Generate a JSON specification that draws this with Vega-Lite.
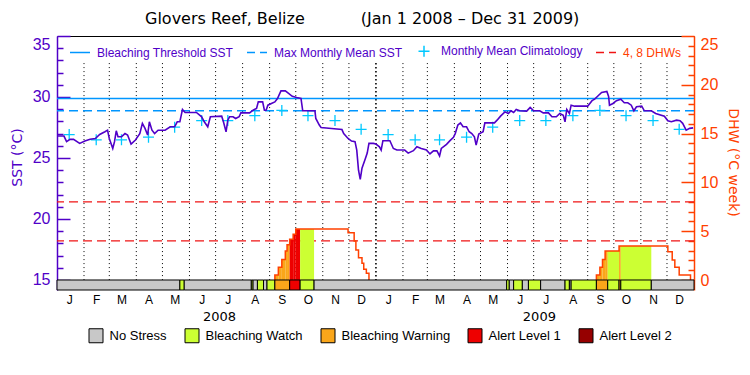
{
  "$schema": "https://vega.github.io/schema/vega-lite/v6.json",
  "width": 637,
  "height": 254,
  "autosize": {"type": "none"},
  "padding": {"left": 57, "top": 36, "right": 56, "bottom": 85},
  "background": "white",
  "config": {"view": {"stroke": null}, "font": "Liberation Sans"},
  "title": {
    "text": "Glovers Reef, Belize\u00a0\u00a0\u00a0\u00a0\u00a0\u00a0\u00a0\u00a0\u00a0\u00a0\u00a0(Jan 1 2008 \u2013 Dec 31 2009)",
    "anchor": "start", "frame": "group", "dx": 88, "offset": 8,
    "font": "DejaVu Sans", "fontSize": 16, "fontWeight": "normal", "color": "black"
  },
  "datasets": {
    "sst": [
      {"date":"2008-01-01","sst":26.80},{"date":"2008-01-09","sst":26.80},{"date":"2008-01-12","sst":26.34},{"date":"2008-01-16","sst":26.53},
      {"date":"2008-01-20","sst":26.53},{"date":"2008-01-27","sst":26.20},{"date":"2008-02-02","sst":26.39},{"date":"2008-02-08","sst":26.53},
      {"date":"2008-02-14","sst":26.60},{"date":"2008-02-19","sst":26.93},{"date":"2008-02-25","sst":27.15},{"date":"2008-02-28","sst":27.28},
      {"date":"2008-03-01","sst":26.60},{"date":"2008-03-05","sst":25.78},{"date":"2008-03-07","sst":26.34},{"date":"2008-03-09","sst":27.23},
      {"date":"2008-03-11","sst":26.74},{"date":"2008-03-15","sst":26.74},{"date":"2008-03-19","sst":27.00},{"date":"2008-03-22","sst":26.88},
      {"date":"2008-03-26","sst":26.14},{"date":"2008-03-31","sst":26.47},{"date":"2008-04-05","sst":27.00},{"date":"2008-04-08","sst":27.84},
      {"date":"2008-04-11","sst":27.43},{"date":"2008-04-14","sst":26.88},{"date":"2008-04-16","sst":27.97},{"date":"2008-04-19","sst":27.28},
      {"date":"2008-04-22","sst":27.00},{"date":"2008-04-26","sst":27.28},{"date":"2008-05-04","sst":27.28},{"date":"2008-05-10","sst":27.56},
      {"date":"2008-05-15","sst":27.56},{"date":"2008-05-18","sst":27.97},{"date":"2008-05-21","sst":27.97},{"date":"2008-05-24","sst":28.98},
      {"date":"2008-05-27","sst":28.73},{"date":"2008-06-09","sst":28.73},{"date":"2008-06-15","sst":28.38},{"date":"2008-06-18","sst":27.97},
      {"date":"2008-06-22","sst":27.56},{"date":"2008-06-25","sst":28.38},{"date":"2008-07-08","sst":28.43},{"date":"2008-07-10","sst":27.97},
      {"date":"2008-07-13","sst":27.15},{"date":"2008-07-15","sst":28.10},{"date":"2008-07-17","sst":28.38},{"date":"2008-07-21","sst":28.38},
      {"date":"2008-07-24","sst":28.24},{"date":"2008-07-28","sst":28.38},{"date":"2008-07-30","sst":28.70},{"date":"2008-08-09","sst":28.70},
      {"date":"2008-08-13","sst":28.92},{"date":"2008-08-17","sst":29.06},{"date":"2008-08-19","sst":29.60},{"date":"2008-08-24","sst":29.60},
      {"date":"2008-08-26","sst":28.92},{"date":"2008-08-28","sst":28.92},{"date":"2008-08-30","sst":29.33},{"date":"2008-09-03","sst":29.47},
      {"date":"2008-09-07","sst":29.60},{"date":"2008-09-10","sst":29.88},{"date":"2008-09-14","sst":30.50},{"date":"2008-09-19","sst":30.50},
      {"date":"2008-09-22","sst":30.34},{"date":"2008-09-27","sst":30.06},{"date":"2008-10-02","sst":29.96},{"date":"2008-10-07","sst":29.88},
      {"date":"2008-10-09","sst":28.87},{"date":"2008-10-23","sst":28.87},{"date":"2008-10-24","sst":28.24},{"date":"2008-10-28","sst":27.70},
      {"date":"2008-10-30","sst":27.50},{"date":"2008-11-11","sst":27.42},{"date":"2008-11-23","sst":27.33},{"date":"2008-11-25","sst":27.00},
      {"date":"2008-11-30","sst":26.60},{"date":"2008-12-04","sst":26.39},{"date":"2008-12-08","sst":26.34},{"date":"2008-12-10","sst":25.65},
      {"date":"2008-12-12","sst":24.00},{"date":"2008-12-14","sst":23.25},{"date":"2008-12-16","sst":24.16},{"date":"2008-12-20","sst":24.98},
      {"date":"2008-12-22","sst":25.40},{"date":"2008-12-24","sst":26.20},{"date":"2008-12-29","sst":26.20},
      {"date":"2009-01-01","sst":26.14},{"date":"2009-01-05","sst":25.92},{"date":"2009-01-07","sst":25.65},{"date":"2009-01-09","sst":26.42},
      {"date":"2009-01-17","sst":26.42},{"date":"2009-01-21","sst":25.78},{"date":"2009-01-25","sst":25.65},{"date":"2009-02-03","sst":25.65},
      {"date":"2009-02-07","sst":25.40},{"date":"2009-02-13","sst":25.60},{"date":"2009-02-17","sst":25.92},{"date":"2009-02-22","sst":25.78},
      {"date":"2009-02-28","sst":25.65},{"date":"2009-03-04","sst":25.33},{"date":"2009-03-08","sst":25.58},{"date":"2009-03-12","sst":25.58},
      {"date":"2009-03-15","sst":25.17},{"date":"2009-03-17","sst":25.78},{"date":"2009-03-23","sst":26.12},{"date":"2009-03-27","sst":26.42},
      {"date":"2009-03-31","sst":26.70},{"date":"2009-04-02","sst":27.00},{"date":"2009-04-05","sst":27.70},{"date":"2009-04-08","sst":27.88},
      {"date":"2009-04-11","sst":27.56},{"date":"2009-04-15","sst":27.56},{"date":"2009-04-18","sst":27.15},{"date":"2009-04-21","sst":27.00},
      {"date":"2009-04-24","sst":26.74},{"date":"2009-04-26","sst":26.06},{"date":"2009-04-29","sst":26.96},{"date":"2009-05-04","sst":27.15},
      {"date":"2009-05-06","sst":27.88},{"date":"2009-05-17","sst":27.88},{"date":"2009-05-20","sst":28.10},{"date":"2009-05-24","sst":28.43},
      {"date":"2009-05-29","sst":28.78},{"date":"2009-06-02","sst":28.65},{"date":"2009-06-05","sst":28.87},{"date":"2009-06-08","sst":28.73},
      {"date":"2009-06-11","sst":28.98},{"date":"2009-06-15","sst":28.87},{"date":"2009-06-23","sst":28.84},{"date":"2009-06-27","sst":29.14},
      {"date":"2009-07-01","sst":28.87},{"date":"2009-07-08","sst":28.87},{"date":"2009-07-12","sst":28.70},{"date":"2009-07-18","sst":28.70},
      {"date":"2009-07-22","sst":28.38},{"date":"2009-07-27","sst":28.38},{"date":"2009-07-31","sst":28.65},{"date":"2009-08-04","sst":28.50},
      {"date":"2009-08-06","sst":27.97},{"date":"2009-08-08","sst":28.98},{"date":"2009-08-11","sst":28.65},{"date":"2009-08-13","sst":29.33},
      {"date":"2009-08-17","sst":29.25},{"date":"2009-09-01","sst":29.25},{"date":"2009-09-06","sst":29.70},{"date":"2009-09-09","sst":29.82},
      {"date":"2009-09-13","sst":30.10},{"date":"2009-09-17","sst":30.37},{"date":"2009-09-23","sst":30.45},{"date":"2009-09-25","sst":30.04},
      {"date":"2009-09-26","sst":29.33},{"date":"2009-09-30","sst":29.47},{"date":"2009-10-04","sst":29.70},{"date":"2009-10-09","sst":29.82},
      {"date":"2009-10-13","sst":29.53},{"date":"2009-10-17","sst":29.53},{"date":"2009-10-21","sst":29.33},{"date":"2009-10-24","sst":28.87},
      {"date":"2009-10-27","sst":29.20},{"date":"2009-11-02","sst":29.25},{"date":"2009-11-05","sst":28.87},{"date":"2009-11-13","sst":28.87},
      {"date":"2009-11-18","sst":28.65},{"date":"2009-11-28","sst":28.43},{"date":"2009-12-02","sst":28.05},{"date":"2009-12-06","sst":27.97},
      {"date":"2009-12-12","sst":28.10},{"date":"2009-12-16","sst":28.05},{"date":"2009-12-19","sst":27.84},{"date":"2009-12-23","sst":27.28},
      {"date":"2009-12-27","sst":27.43},{"date":"2009-12-31","sst":27.47}
    ],
    "clim": [
      {"date":"2008-01-15","sst":26.92},{"date":"2008-02-15","sst":26.49},{"date":"2008-03-15","sst":26.49},{"date":"2008-04-15","sst":26.71},
      {"date":"2008-05-15","sst":27.53},{"date":"2008-06-15","sst":28.07},{"date":"2008-07-15","sst":28.07},{"date":"2008-08-15","sst":28.47},
      {"date":"2008-09-15","sst":28.90},{"date":"2008-10-15","sst":28.47},{"date":"2008-11-15","sst":28.07},{"date":"2008-12-15","sst":27.35},
      {"date":"2009-01-15","sst":26.92},{"date":"2009-02-15","sst":26.49},{"date":"2009-03-15","sst":26.49},{"date":"2009-04-15","sst":26.71},
      {"date":"2009-05-15","sst":27.53},{"date":"2009-06-15","sst":28.07},{"date":"2009-07-15","sst":28.07},{"date":"2009-08-15","sst":28.47},
      {"date":"2009-09-15","sst":28.90},{"date":"2009-10-15","sst":28.47},{"date":"2009-11-15","sst":28.07},{"date":"2009-12-15","sst":27.35}
    ],
    "refsst": [
      {"series":"Bleaching Threshold SST","sst":29.88},
      {"series":"Max Monthly Mean SST","sst":28.88}
    ],
    "refdhw": [{"dhw":4},{"dhw":8}],
    "months": [
      {"date":"2008-02-01"},{"date":"2008-03-01"},{"date":"2008-04-01"},{"date":"2008-05-01"},{"date":"2008-06-01"},{"date":"2008-07-01"},
      {"date":"2008-08-01"},{"date":"2008-09-01"},{"date":"2008-10-01"},{"date":"2008-11-01"},{"date":"2008-12-01"},
      {"date":"2009-02-01"},{"date":"2009-03-01"},{"date":"2009-04-01"},{"date":"2009-05-01"},{"date":"2009-06-01"},{"date":"2009-07-01"},
      {"date":"2009-08-01"},{"date":"2009-09-01"},{"date":"2009-10-01"},{"date":"2009-11-01"},{"date":"2009-12-01"}
    ],
    "yearline": [{"date":"2009-01-01"}],
    "dhwline": [
      {"event":"2008","date":"2008-09-07","dhw":0},{"event":"2008","date":"2008-09-07","dhw":0.5},{"event":"2008","date":"2008-09-11","dhw":1.3},
      {"event":"2008","date":"2008-09-15","dhw":2.1},{"event":"2008","date":"2008-09-19","dhw":2.97},{"event":"2008","date":"2008-09-21","dhw":3.6},
      {"event":"2008","date":"2008-09-24","dhw":4.17},{"event":"2008","date":"2008-09-28","dhw":4.68},{"event":"2008","date":"2008-10-01","dhw":5.22},
      {"event":"2008","date":"2008-11-30","dhw":4.85},{"event":"2008","date":"2008-12-07","dhw":4.0},{"event":"2008","date":"2008-12-09","dhw":3.07},
      {"event":"2008","date":"2008-12-12","dhw":2.29},{"event":"2008","date":"2008-12-16","dhw":1.71},{"event":"2008","date":"2008-12-18","dhw":1.09},
      {"event":"2008","date":"2008-12-21","dhw":0.68},{"event":"2008","date":"2008-12-24","dhw":0},
      {"event":"2009","date":"2009-09-11","dhw":0},{"event":"2009","date":"2009-09-11","dhw":0.5},{"event":"2009","date":"2009-09-15","dhw":1.3},
      {"event":"2009","date":"2009-09-18","dhw":2.1},{"event":"2009","date":"2009-09-21","dhw":2.97},{"event":"2009","date":"2009-10-07","dhw":3.48},
      {"event":"2009","date":"2009-12-02","dhw":2.9},{"event":"2009","date":"2009-12-07","dhw":2.05},{"event":"2009","date":"2009-12-10","dhw":1.3},
      {"event":"2009","date":"2009-12-15","dhw":0.5},{"event":"2009","date":"2009-12-28","dhw":0}
    ],
    "dhwfill": [
      {"start":"2008-09-07","end":"2008-09-11","dhw":0.5,"status":"Bleaching Warning"},
      {"start":"2008-09-11","end":"2008-09-15","dhw":1.3,"status":"Bleaching Warning"},
      {"start":"2008-09-15","end":"2008-09-19","dhw":2.1,"status":"Bleaching Warning"},
      {"start":"2008-09-19","end":"2008-09-21","dhw":2.97,"status":"Bleaching Warning"},
      {"start":"2008-09-21","end":"2008-09-24","dhw":3.6,"status":"Bleaching Warning"},
      {"start":"2008-09-24","end":"2008-09-28","dhw":4.17,"status":"Alert Level 1"},
      {"start":"2008-09-28","end":"2008-10-01","dhw":4.68,"status":"Alert Level 1"},
      {"start":"2008-10-01","end":"2008-10-06","dhw":5.22,"status":"Alert Level 1"},
      {"start":"2008-10-06","end":"2008-10-22","dhw":5.22,"status":"Bleaching Watch"},
      {"start":"2009-09-11","end":"2009-09-15","dhw":0.5,"status":"Bleaching Warning"},
      {"start":"2009-09-15","end":"2009-09-18","dhw":1.3,"status":"Bleaching Warning"},
      {"start":"2009-09-18","end":"2009-09-21","dhw":2.1,"status":"Bleaching Warning"},
      {"start":"2009-09-21","end":"2009-09-24","dhw":2.97,"status":"Bleaching Warning"},
      {"start":"2009-09-24","end":"2009-10-07","dhw":2.97,"status":"Bleaching Watch"},
      {"start":"2009-10-07","end":"2009-10-09","dhw":3.48,"status":"Bleaching Warning"},
      {"start":"2009-10-09","end":"2009-11-13","dhw":3.48,"status":"Bleaching Watch"}
    ],
    "status": [
      {"start":"2008-01-01","end":"2008-05-21","status":"No Stress"},
      {"start":"2008-05-21","end":"2008-05-26","status":"Bleaching Watch"},
      {"start":"2008-05-26","end":"2008-08-11","status":"No Stress"},
      {"start":"2008-08-11","end":"2008-08-13","status":"Bleaching Watch"},
      {"start":"2008-08-13","end":"2008-08-18","status":"No Stress"},
      {"start":"2008-08-18","end":"2008-08-25","status":"Bleaching Watch"},
      {"start":"2008-08-25","end":"2008-08-29","status":"No Stress"},
      {"start":"2008-08-29","end":"2008-09-07","status":"Bleaching Watch"},
      {"start":"2008-09-07","end":"2008-09-24","status":"Bleaching Warning"},
      {"start":"2008-09-24","end":"2008-10-06","status":"Alert Level 1"},
      {"start":"2008-10-06","end":"2008-10-22","status":"Bleaching Watch"},
      {"start":"2008-10-22","end":"2009-05-31","status":"No Stress"},
      {"start":"2009-05-31","end":"2009-06-03","status":"Bleaching Watch"},
      {"start":"2009-06-03","end":"2009-06-08","status":"No Stress"},
      {"start":"2009-06-08","end":"2009-06-18","status":"Bleaching Watch"},
      {"start":"2009-06-18","end":"2009-06-25","status":"No Stress"},
      {"start":"2009-06-25","end":"2009-07-09","status":"Bleaching Watch"},
      {"start":"2009-07-09","end":"2009-08-06","status":"No Stress"},
      {"start":"2009-08-06","end":"2009-08-11","status":"Bleaching Watch"},
      {"start":"2009-08-11","end":"2009-08-13","status":"No Stress"},
      {"start":"2009-08-13","end":"2009-09-11","status":"Bleaching Watch"},
      {"start":"2009-09-11","end":"2009-09-24","status":"Bleaching Warning"},
      {"start":"2009-09-24","end":"2009-10-07","status":"Bleaching Watch"},
      {"start":"2009-10-07","end":"2009-10-09","status":"Bleaching Warning"},
      {"start":"2009-10-09","end":"2009-11-13","status":"Bleaching Watch"},
      {"start":"2009-11-13","end":"2010-01-01","status":"No Stress"}
    ]
  },
  "resolve": {"scale": {"y": "independent"}, "axis": {"x": "independent"}},
  "layer": [
    {
      "data": {"name": "months"},
      "mark": {"type": "rule", "color": "black", "strokeDash": [1, 3], "strokeWidth": 1},
      "encoding": {
        "x": {"field": "date", "type": "temporal",
              "scale": {"type": "utc", "domain": [{"year": 2008, "month": 1, "date": 1, "utc": true}, {"year": 2010, "month": 1, "date": 1, "utc": true}]},
              "axis": {"orient": "top", "domain": true, "domainColor": "black", "domainWidth": 1, "ticks": false, "labels": false, "grid": false, "title": null}},
        "y": {"datum": 32.78, "scale": {"domain": [14.1803, 35], "nice": false, "zero": false}, "axis": null},
        "y2": {"datum": 15}
      }
    },
    {
      "data": {"name": "yearline"},
      "mark": {"type": "rule", "color": "black", "strokeDash": [1.5, 2.5], "strokeWidth": 1.6},
      "encoding": {
        "x": {"field": "date", "type": "temporal", "axis": null},
        "y": {"datum": 32.78, "scale": {"domain": [14.1803, 35], "nice": false, "zero": false}, "axis": null},
        "y2": {"datum": 15}
      }
    },
    {
      "data": {"name": "refdhw"},
      "mark": {"type": "rule", "color": "#f01414", "strokeDash": [9, 5], "strokeWidth": 1.2},
      "encoding": {
        "y": {"field": "dhw", "type": "quantitative", "scale": {"domain": [-1.02459, 25], "nice": false, "zero": false},
              "axis": {"orient": "right", "values": [1,2,3,4,6,7,8,9,11,12,13,14,16,17,18,19,21,22,23,24], "tickSize": -6, "tickColor": "#ff4000", "tickWidth": 1.5, "domain": false, "labels": false, "grid": false, "title": null}}
      }
    },
    {
      "data": {"name": "refsst"},
      "mark": {"type": "rule", "strokeWidth": 1.5},
      "encoding": {
        "y": {"field": "sst", "type": "quantitative", "scale": {"domain": [14.1803, 35], "nice": false, "zero": false},
              "axis": {"orient": "left", "values": [16,17,18,19,21,22,23,24,26,27,28,29,31,32,33,34], "tickSize": -6, "tickColor": "#5000c8", "tickWidth": 1.5, "domain": false, "labels": false, "grid": false, "title": null}},
        "stroke": {"field": "series", "type": "nominal",
                   "scale": {"domain": ["Bleaching Threshold SST", "Max Monthly Mean SST", "Monthly Mean Climatology", "4, 8 DHWs"],
                             "range": ["#0096ff", "#0096ff", "#00c8ff", "#f01414"]},
                   "legend": {"title": null, "orient": "none", "legendX": 12, "legendY": 4, "direction": "horizontal",
                              "symbolType": {"expr": "datum.label === 'Monthly Mean Climatology' ? 'M-0.55,0H0.55M0,-0.55V0.55' : 'stroke'"},
                              "symbolSize": 400, "symbolStrokeWidth": 1.5,
                              "symbolDash": {"expr": "(datum.label === 'Max Monthly Mean SST' || datum.label === '4, 8 DHWs') ? [8, 5] : [20, 0]"},
                              "labelColor": {"expr": "datum.label === '4, 8 DHWs' ? '#ff4000' : '#5000c8'"},
                              "labelFont": "Liberation Sans", "labelFontSize": 12, "labelOffset": 6, "columnPadding": 10}},
        "strokeDash": {"field": "series", "type": "nominal",
                       "scale": {"domain": ["Bleaching Threshold SST", "Max Monthly Mean SST"], "range": [[1, 0], [9, 5]]},
                       "legend": null}
      }
    },
    {
      "data": {"name": "clim"},
      "mark": {"type": "point", "shape": "M-1,0H1M0,-1V1", "size": 121, "filled": false, "color": "#00c8ff", "strokeWidth": 1.3, "opacity": 1},
      "encoding": {
        "x": {"field": "date", "type": "temporal", "axis": null},
        "y": {"field": "sst", "type": "quantitative", "scale": {"domain": [14.1803, 35], "nice": false, "zero": false}, "axis": null}
      }
    },
    {
      "data": {"name": "dhwfill"},
      "mark": {"type": "rect"},
      "encoding": {
        "x": {"field": "start", "type": "temporal", "axis": null},
        "x2": {"field": "end"},
        "y": {"field": "dhw", "type": "quantitative", "scale": {"domain": [-1.02459, 25], "nice": false, "zero": false}, "axis": null},
        "y2": {"datum": 0},
        "fill": {"field": "status", "type": "nominal",
                 "scale": {"domain": ["No Stress", "Bleaching Watch", "Bleaching Warning", "Alert Level 1", "Alert Level 2"],
                           "range": ["#c8c8c8", "#ccff33", "#faa61a", "#ee0000", "#960000"]},
                 "legend": {"title": null, "orient": "none", "legendX": 31.5, "legendY": 292, "direction": "horizontal",
                            "symbolType": "square", "symbolSize": 196, "symbolStrokeColor": "black", "symbolStrokeWidth": 1, "symbolOpacity": 1,
                            "labelFont": "Liberation Sans", "labelFontSize": 13, "labelColor": "black", "labelOffset": 6, "columnPadding": 15}}
      }
    },
    {
      "data": {"name": "dhwline"},
      "mark": {"type": "line", "interpolate": "step-after", "color": "#ff4000", "strokeWidth": 1.5},
      "encoding": {
        "x": {"field": "date", "type": "temporal", "axis": null},
        "y": {"field": "dhw", "type": "quantitative", "scale": {"domain": [-1.02459, 25], "nice": false, "zero": false},
              "axis": {"orient": "right", "values": [0, 5, 10, 15, 20, 25], "tickSize": -13, "tickColor": "#ff4000", "tickWidth": 1.5,
                       "domainColor": "#ff4000", "domainWidth": 1.5, "labelColor": "#ff4000", "labelFont": "Liberation Sans", "labelFontSize": 16,
                       "labelPadding": 19, "labelFlush": true, "grid": false,
                       "title": "DHW (°C week)", "titleColor": "#ff4000", "titleFont": "DejaVu Sans", "titleFontSize": 14, "titleFontWeight": "normal",
                       "titleAngle": 90, "titleX": 38, "titleY": 126, "titleAlign": "center", "titleBaseline": "middle"}},
        "detail": {"field": "event", "type": "nominal"}
      }
    },
    {
      "data": {"name": "sst"},
      "mark": {"type": "line", "color": "#5000c8", "strokeWidth": 1.6},
      "encoding": {
        "x": {"field": "date", "type": "temporal",
              "axis": {"orient": "bottom", "values": [{"year": 2008, "month": 7, "date": 5, "utc": true}, {"year": 2009, "month": 7, "date": 7, "utc": true}],
                       "format": "%Y", "ticks": false, "domain": false, "grid": false, "labelPadding": 20, "labelFont": "DejaVu Sans",
                       "labelFontSize": 13, "labelColor": "black", "labelFlush": false, "title": null}},
        "y": {"field": "sst", "type": "quantitative", "scale": {"domain": [14.1803, 35], "nice": false, "zero": false},
              "axis": {"orient": "left", "values": [15, 20, 25, 30, 35], "tickSize": -13, "tickColor": "#5000c8", "tickWidth": 1.5,
                       "domainColor": "#5000c8", "domainWidth": 1.5, "labelColor": "#5000c8", "labelFont": "Liberation Sans", "labelFontSize": 16,
                       "labelPadding": 20, "labelFlush": true, "grid": false,
                       "title": "SST (°C)", "titleColor": "#5000c8", "titleFont": "DejaVu Sans", "titleFontSize": 14, "titleFontWeight": "normal",
                       "titleAngle": 270, "titleX": -40, "titleY": 121, "titleAlign": "center", "titleBaseline": "middle"}}
      }
    },
    {
      "data": {"name": "status"},
      "mark": {"type": "rect", "stroke": "black", "strokeWidth": 1},
      "encoding": {
        "x": {"field": "start", "type": "temporal",
              "axis": {"orient": "bottom",
                       "values": [{"year":2008,"month":1,"date":15,"utc":true},{"year":2008,"month":2,"date":15,"utc":true},{"year":2008,"month":3,"date":15,"utc":true},
                                  {"year":2008,"month":4,"date":15,"utc":true},{"year":2008,"month":5,"date":15,"utc":true},{"year":2008,"month":6,"date":15,"utc":true},
                                  {"year":2008,"month":7,"date":15,"utc":true},{"year":2008,"month":8,"date":15,"utc":true},{"year":2008,"month":9,"date":15,"utc":true},
                                  {"year":2008,"month":10,"date":15,"utc":true},{"year":2008,"month":11,"date":15,"utc":true},{"year":2008,"month":12,"date":15,"utc":true},
                                  {"year":2009,"month":1,"date":15,"utc":true},{"year":2009,"month":2,"date":15,"utc":true},{"year":2009,"month":3,"date":15,"utc":true},
                                  {"year":2009,"month":4,"date":15,"utc":true},{"year":2009,"month":5,"date":15,"utc":true},{"year":2009,"month":6,"date":15,"utc":true},
                                  {"year":2009,"month":7,"date":15,"utc":true},{"year":2009,"month":8,"date":15,"utc":true},{"year":2009,"month":9,"date":15,"utc":true},
                                  {"year":2009,"month":10,"date":15,"utc":true},{"year":2009,"month":11,"date":15,"utc":true},{"year":2009,"month":12,"date":15,"utc":true}],
                       "format": "%b", "labelExpr": "substring(datum.label, 0, 1)", "ticks": false, "domain": false, "grid": false,
                       "labelPadding": 4, "labelFont": "Liberation Sans", "labelFontSize": 12, "labelColor": "black",
                       "labelFlush": false, "labelOverlap": false, "title": null}},
        "x2": {"field": "end"},
        "y": {"datum": 15, "scale": {"domain": [14.1803, 35], "nice": false, "zero": false}, "axis": null},
        "y2": {"datum": 14.1803},
        "fill": {"field": "status", "type": "nominal",
                 "scale": {"domain": ["No Stress", "Bleaching Watch", "Bleaching Warning", "Alert Level 1", "Alert Level 2"],
                           "range": ["#c8c8c8", "#ccff33", "#faa61a", "#ee0000", "#960000"]},
                 "legend": {"title": null, "orient": "none", "legendX": 31.5, "legendY": 292, "direction": "horizontal",
                            "symbolType": "square", "symbolSize": 196, "symbolStrokeColor": "black", "symbolStrokeWidth": 1, "symbolOpacity": 1,
                            "labelFont": "Liberation Sans", "labelFontSize": 13, "labelColor": "black", "labelOffset": 6, "columnPadding": 15}}
      }
    }
  ]
}
